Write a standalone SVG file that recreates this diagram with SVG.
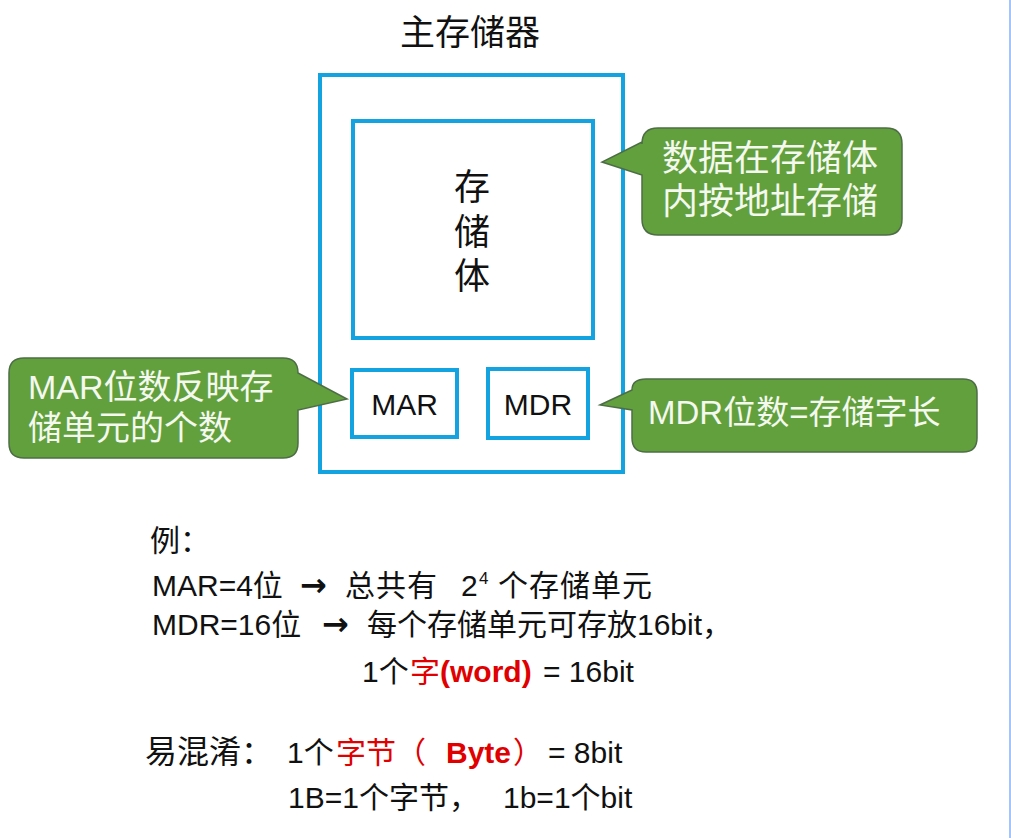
<svg xmlns="http://www.w3.org/2000/svg" width="1011" height="838" viewBox="0 0 1011 838">
<style>
.box{fill:#ffffff;stroke:#12a3e0;stroke-width:4}
.call{fill:#62a03e;stroke:#4d6e45;stroke-width:1.5}
.t{font-family:'Liberation Sans','Noto Sans CJK SC',sans-serif;fill:#111111}
.w{font-family:'Liberation Sans','Noto Sans CJK SC',sans-serif;fill:#f4f8ee}
.red{fill:#e00000}
.b{font-weight:bold}
.arr{font-family:'DejaVu Sans',sans-serif;font-weight:bold;font-size:32px}
</style>
<rect width="1011" height="838" fill="#ffffff"/>
<line x1="1010" y1="0" x2="1010" y2="838" stroke="#8ab0f5" stroke-width="1.5"/>

<g id="title">
<text class="t" x="470" y="45" font-size="35" text-anchor="middle">主存储器</text>
</g>

<g id="main-memory">
<rect class="box" x="320" y="75" width="303" height="397"/>
</g>

<g id="storage">
<rect class="box" x="353" y="121" width="240" height="217"/>
<text class="t" x="472" font-size="36" text-anchor="middle"><tspan x="472" y="200">存</tspan><tspan x="472" y="245">储</tspan><tspan x="472" y="289">体</tspan></text>
</g>

<g id="mar">
<rect class="box" x="352" y="370" width="105" height="67"/>
<text class="t" x="404.5" y="415" font-size="30" text-anchor="middle">MAR</text>
</g>

<g id="mdr">
<rect class="box" x="488" y="369" width="100" height="69"/>
<text class="t" x="538" y="415" font-size="30" text-anchor="middle">MDR</text>
</g>

<g id="connectors"></g>

<g id="callout-storage">
<path class="call" d="M658,128 H886 Q902,128 902,144 V219 Q902,235 886,235 H658 Q642,235 642,219 V175 L602,162 L642,142 V144 Q642,128 658,128 Z"/>
<text class="w" font-size="36"><tspan x="662" y="171">数据在存储体</tspan><tspan x="662" y="214">内按地址存储</tspan></text>
</g>

<g id="callout-mar">
<path class="call" d="M24,358 H283 Q298,358 298,373 L347,399 L298,410 V443 Q298,458 283,458 H24 Q9,458 9,443 V373 Q9,358 24,358 Z"/>
<text class="w" font-size="34"><tspan x="28" y="399">MAR位数反映存</tspan><tspan x="28" y="440">储单元的个数</tspan></text>
</g>

<g id="callout-mdr">
<path class="call" d="M646,379 H963 Q977,379 977,393 V438 Q977,452 963,452 H646 Q632,452 632,438 V410 L600,405 L632,390 Q632,379 646,379 Z"/>
<text class="w" x="648" y="424" font-size="33">MDR位数=存储字长</text>
</g>

<g id="example" font-size="30">
<text class="t" x="150" y="551">例：</text>
<text class="t" y="596"><tspan x="152">MAR=4位</tspan><tspan class="arr" x="300">→</tspan><tspan x="345" letter-spacing="1">总共有</tspan><tspan x="461">2</tspan><tspan x="479" y="584" font-size="17">4</tspan><tspan x="498" y="596" letter-spacing="1">个存储单元</tspan></text>
<text class="t" y="635"><tspan x="152">MDR=16位</tspan><tspan class="arr" x="322">→</tspan><tspan x="367">每个存储单元可存放16bit，</tspan></text>
<text class="t" y="682"><tspan x="362">1个</tspan><tspan class="red" x="410">字</tspan><tspan class="red b" x="440">(word)</tspan><tspan x="543">= 16bit</tspan></text>
</g>

<g id="confusion" font-size="30">
<text class="t" y="763"><tspan x="145" font-size="32">易混淆：</tspan><tspan x="287">1个</tspan><tspan class="red" x="336">字节（</tspan><tspan class="red b" x="446">Byte</tspan><tspan class="red" x="513">）</tspan><tspan x="548">= 8bit</tspan></text>
<text class="t" y="808"><tspan x="288">1B=1个字节，</tspan><tspan x="503">1b=1个bit</tspan></text>
</g>
</svg>
